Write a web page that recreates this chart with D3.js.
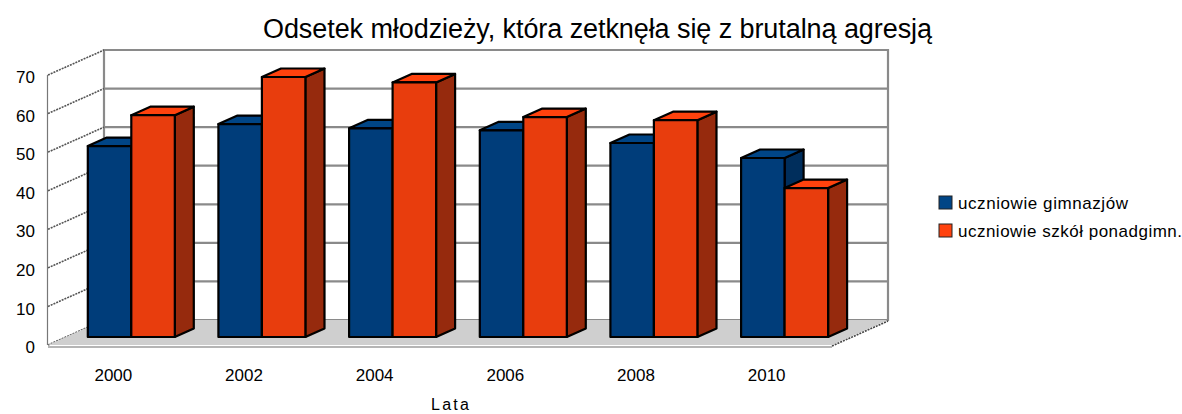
<!DOCTYPE html>
<html><head><meta charset="utf-8">
<script src="https://cdn.jsdelivr.net/npm/d3@7"></script>
<style>html,body{margin:0;background:#fff}svg{display:block}text{font-family:"Liberation Sans",Arial,sans-serif;fill:#000}</style>
</head><body><svg id="c" width="1182" height="414"></svg>
<script>
const years = ["2000","2002","2004","2006","2008","2010"];
const seriesNames = ["uczniowie gimnazjów","uczniowie szkół ponadgimn."];
const gimnazjum = [49.5,55.2,54.1,53.6,50.3,46.4];
const ponadgimn = [57.5,67.4,66.0,57.0,56.2,38.6];
const yTicks = [0,10,20,30,40,50,60,70];
const faceColors = ["#003e7a","#e83c0c"];
const topColors = ["#004586","#ff420e"];
const sideColors = ["#002f5c","#962a08"];

const svg = d3.select("#c");
const defs = svg.append("defs");
defs.append("filter").attr("id","soft").attr("x","-5%").attr("y","-5%").attr("width","110%").attr("height","110%")
  .append("feGaussianBlur").attr("stdDeviation",0.5);

const x = d3.scaleBand().domain(years).range([48,832]);
const inner = d3.scaleBand().domain([0,1]).range([0,87]);
const y = d3.scaleLinear().domain([0,70]).range([345,75]);
const dx = d3.scaleLinear().domain([0,1]).range([0,56]);
const dy = d3.scaleLinear().domain([0,1]).range([0,-25]);
const P = (px,v,z)=>[px+dx(z), y(v)+dy(z)];
const poly = pts=>pts.map(p=>p.map(n=>n.toFixed(1)).join(",")).join(" ");
const xL = x.range()[0], xR = x.range()[1];

const plot = svg.append("g").attr("filter","url(#soft)");
plot.append("polygon").attr("points",poly([P(xL,0,1),P(xR,0,1),P(xR,70,1),P(xL,70,1)]))
  .attr("fill","#fff").attr("stroke","#8a8a8a").attr("stroke-width",2.2);
plot.selectAll("line.g").data(yTicks).join("line").attr("class","g")
  .attr("x1",P(xL,0,1)[0]).attr("x2",P(xR,0,1)[0])
  .attr("y1",d=>P(xL,d,1)[1]).attr("y2",d=>P(xL,d,1)[1])
  .attr("stroke","#8a8a8a").attr("stroke-width",2.2);
plot.selectAll("line.s").data(yTicks).join("line").attr("class","s")
  .attr("x1",P(xL,0,0)[0]).attr("x2",P(xL,0,1)[0])
  .attr("y1",d=>P(xL,d,0)[1]).attr("y2",d=>P(xL,d,1)[1])
  .attr("stroke","#555").attr("stroke-width",1.6).attr("stroke-dasharray","2 1");
plot.append("line").attr("x1",xL-.5).attr("x2",xL-.5).attr("y1",y(70)).attr("y2",y(0)).attr("stroke","#777").attr("stroke-width",1.2);
plot.append("polygon").attr("points",poly([P(xL,0,0),P(xR,0,0),P(xR,0,1),P(xL,0,1)])).attr("fill","#cfcfcf");
plot.append("line").attr("x1",xL).attr("x2",xR).attr("y1",y(0)+2).attr("y2",y(0)+2).attr("stroke","#b5b5b5").attr("stroke-width",2);
plot.append("line").attr("x1",xR).attr("x2",P(xR,0,1)[0]).attr("y1",y(0)+1).attr("y2",P(xR,0,1)[1]+1)
  .attr("stroke","#444").attr("stroke-width",1.6).attr("stroke-dasharray","2 1");

const zF = 0.32, zB = 0.66, groupPad = (x.bandwidth()-inner.range()[1])/2;
const rows = [];
years.forEach((yr,i)=>{ [gimnazjum,ponadgimn].forEach((s,k)=>rows.push({yr,k,v:s[i]})); });
const gs = plot.selectAll("g.b").data(rows).join("g").attr("class","b");
const edge = {stroke:"#000","stroke-width":2.2,"stroke-linejoin":"round"};
function face(sel,fill,pts){
  const p = sel.append("polygon").attr("points",pts).attr("fill",fill);
  Object.entries(edge).forEach(([a,b])=>p.attr(a,b));
}
gs.each(function(d){
  const g = d3.select(this);
  const l = x(d.yr)+groupPad+inner(d.k);
  const r = l+inner.bandwidth();
  face(g,sideColors[d.k],poly([P(r,0,zF),P(r,0,zB),P(r,d.v,zB),P(r,d.v,zF)]));
  face(g,topColors[d.k],poly([P(l,d.v,zF),P(r,d.v,zF),P(r,d.v,zB),P(l,d.v,zB)]));
  face(g,faceColors[d.k],poly([P(l,0,zF),P(r,0,zF),P(r,d.v,zF),P(l,d.v,zF)]));
});

const ya = svg.append("g").attr("transform","translate(35,1.5)")
  .call(d3.axisLeft(y).tickValues(yTicks).tickSize(0).tickPadding(0));
ya.select(".domain").remove();
ya.selectAll("text").attr("font-size",17).attr("font-family",null).attr("dy","0.36em");
const xa = svg.append("g").attr("transform","translate(0,345)")
  .call(d3.axisBottom(x).tickSize(0).tickPadding(24));
xa.select(".domain").remove();
xa.selectAll("text").attr("font-size",17).attr("font-family",null);

svg.append("text").attr("x",597.5).attr("y",38).attr("text-anchor","middle").attr("font-size",27)
  .attr("textLength",669).attr("lengthAdjust","spacing").text("Odsetek młodzieży, która zetknęła się z brutalną agresją");
svg.append("text").attr("x",450).attr("y",409.5).attr("text-anchor","middle").attr("font-size",16)
  .attr("textLength",38).text("Lata");

const legY = d3.scalePoint().domain(seriesNames).range([203,231]);
const lg = svg.selectAll("g.l").data(seriesNames).join("g").attr("class","l")
  .attr("transform",d=>`translate(939,${legY(d)})`);
lg.append("rect").attr("x",0).attr("y",-7).attr("width",13).attr("height",13)
  .attr("fill",(d,i)=>topColors[i]).attr("stroke","#222").attr("stroke-width",1);
lg.append("text").attr("x",19).attr("y",6).attr("font-size",17)
  .attr("textLength",(d,i)=>[170,224][i]).text(d=>d);
</script></body></html>
